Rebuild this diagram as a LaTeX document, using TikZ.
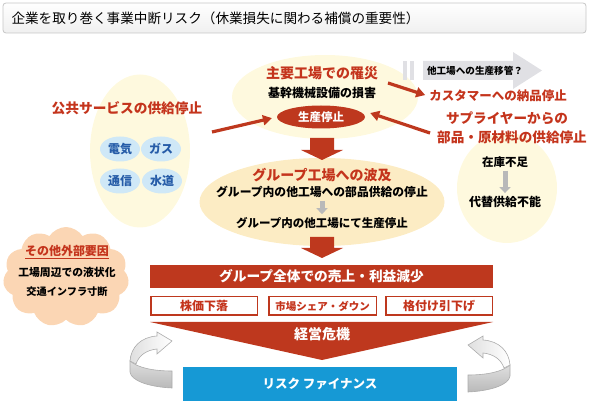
\documentclass[tikz,border=0pt]{standalone}
\usepackage{fontspec}
\setmainfont{Noto Sans CJK JP}
\usetikzlibrary{arrows.meta,calc,positioning,shapes.geometric,shapes.symbols}

\definecolor{rtxt}{RGB}{196,52,28}
\definecolor{rbar}{RGB}{190,56,30}
\definecolor{pale}{RGB}{254,249,222}
\definecolor{peach}{RGB}{252,236,196}
\definecolor{cloudc}{RGB}{251,214,180}
\definecolor{lblue}{RGB}{207,232,247}
\definecolor{btxt}{RGB}{38,92,168}
\definecolor{rblue}{RGB}{22,153,213}
\definecolor{lgray}{RGB}{224,224,228}

\begin{document}
\begin{tikzpicture}[x=1pt,y=-1pt,>=Stealth,
  redtxt/.style={text=rtxt,font=\bfseries\fontsize{#1}{#1}\selectfont,inner sep=1pt},
  redtxt/.default=14,
  blktxt/.style={text=black,font=\bfseries\fontsize{#1}{#1}\selectfont,inner sep=1pt},
  blktxt/.default=12,
  whttxt/.style={text=white,font=\bfseries\fontsize{#1}{#1}\selectfont},
  whttxt/.default=13.5,
  bubble/.style={ellipse,fill=lblue,minimum width=40,minimum height=25,inner sep=0,
    text=btxt,font=\bfseries\fontsize{12}{12}\selectfont},
  subbox/.style={draw=rbar,line width=1.5pt,fill=white,minimum height=18.5,inner sep=0},
  redarr/.style={line width=3.2pt,rbar,-{Triangle[length=9pt,width=10pt]}},
  graydown/.style={line width=5pt,gray!55,-{Triangle[length=6pt,width=11pt]},shorten <=2pt,shorten >=2pt}]
  \useasboundingbox (0,0) rectangle (590,401);

  % title bar
  \path[draw=gray!45,line width=0.8pt,rounded corners=3pt,top color=white,bottom color=gray!12]
    (3,3) rectangle (586,33);
  \node[anchor=west,font=\fontsize{13.6}{14}\selectfont] (title) at (8,18)
    {企業を取り巻く事業中断リスク（休業損失に関わる補償の重要性）};

  % background ellipses
  \node[ellipse,fill=pale,minimum width=100,minimum height=153] (pubell) at (140,151) {};
  \node[ellipse,fill=pale,minimum width=186,minimum height=84] (mainell) at (325,97) {};
  \node[ellipse,fill=peach,minimum width=245,minimum height=88] (grpell) at (322,202) {};
  \node[ellipse,fill=pale,minimum width=100,minimum height=110] (supell) at (507,188) {};
  \node[cloud,cloud puffs=11,cloud puff arc=115,aspect=1.3,fill=cloudc,
    minimum width=126,minimum height=100] (cloud) at (66,277) {};

  % public services
  \node[redtxt=13.7] (pub) at (127,108) {公共サービスの供給停止};
  \node[bubble] (elec) at (120,149) {電気};
  \node[bubble] (gas) at (161,149) {ガス};
  \node[bubble] (tel) at (120,181) {通信};
  \node[bubble] (water) at (162,181) {水道};

  % main plant
  \node[redtxt=14] (main) at (322,73) {主要工場での罹災};
  \node[blktxt=12] (dmg) at (322,93) {基幹機械設備の損害};
  \node[ellipse,fill=rbar,minimum width=88,minimum height=23,inner sep=0,whttxt=11.5] (stop) at (321,117) {生産停止};

  % transfer to other plants
  \fill[lgray] (403,61) rectangle (407,80);
  \fill[lgray] (410,61) rectangle (414,80);
  \fill[lgray] (423,61) -- (513,61) -- (513,52) -- (542,70.5) -- (513,89) -- (513,80) -- (423,80) -- cycle;
  \node[blktxt=9.6] (move) at (475,71) {他工場への生産移管？};

  % customers and suppliers
  \node[redtxt=12.5] (cust) at (498,96) {カスタマーへの納品停止};
  \node[redtxt=13.6] (sup1) at (507,118) {サプライヤーからの};
  \node[redtxt=13.6] (sup2) at (512,137) {部品・原材料の供給停止};
  \node[blktxt=11.5] (stock) at (505,162) {在庫不足};
  \node[blktxt=12] (alt) at (505,202) {代替供給不能};
  \draw[graydown] (stock) -- (alt);

  \coordinate (pubA) at (212,132);
  \coordinate (supA) at (430,133);
  \coordinate (custA) at (388,83);
  \draw[redarr,shorten >=5pt] (pubA) -- (stop.west);
  \draw[redarr] (supA) -- ([shift={(5,-4)}]stop.east);
  \draw[redarr,shorten >=3pt] (custA) -- (cust.west);

  % big arrows down
  \fill[rbar] (322,138) -- ++(12,0) -- ++(0,12) -- ++(9,0) -- ++(-21,10) -- ++(-21,-10) -- ++(9,0) -- ++(0,-12) -- cycle;
  \fill[rbar] (322,237) -- ++(12,0) -- ++(0,11) -- ++(9,0) -- ++(-21,10) -- ++(-21,-10) -- ++(9,0) -- ++(0,-11) -- cycle;

  % group plants
  \node[redtxt=14] (grp) at (322,175) {グループ工場への波及};
  \node[blktxt=11.8] (grp2) at (322,192) {グループ内の他工場への部品供給の停止};
  \node[blktxt=11.5] (grp3) at (322,223) {グループ内の他工場にて生産停止};
  \draw[graydown] (grp2) -- (grp3);

  % other external factors
  \node[text=rtxt,font=\bfseries\fontsize{12}{12}\selectfont] (ext) at (67,252) {\underline{その他外部要因}};
  \node[blktxt=10.8] (ext1) at (67,272) {工場周辺での液状化};
  \node[blktxt=10.2] (ext2) at (67,292) {交通インフラ寸断};

  % group-wide effects
  \node[fill=rbar,minimum width=343,minimum height=23,inner sep=0,whttxt=13.7] (bar) at (321.5,276.5) {グループ全体での売上・利益減少};
  \node[subbox,minimum width=106.5,redtxt=12] (stk) at (204,306) {株価下落};
  \node[subbox,minimum width=107.5,redtxt=10.5] (share) at (322.5,306) {市場シェア・ダウン};
  \node[subbox,minimum width=106.5,redtxt=12] (rate) at (439,306) {格付け引下げ};
  \fill[rbar] (150,322) -- (493,322) -- (322,360) -- cycle;
  \node[whttxt=14] (crisis) at (322,334) {経営危機};

  % risk finance
  \node[fill=rblue,minimum width=274,minimum height=34,inner sep=0,whttxt=12.5] (rf) at (320,384) {リスク ファイナンス};

  % curved arrows
  \foreach \sx/\dx/\dy in {1/0/0,-1/640/4} {
    \begin{scope}[shift={(\dx,\dy)},xscale=\sx]
      \path[draw=gray!65,line width=0.6pt,top color=gray!25,bottom color=gray!55]
        (130,361) .. controls (138,368) and (154,371) .. (172,371) -- (172,388)
        .. controls (150,387) and (131,381) .. (130,372) -- cycle;
      \path[draw=gray!65,line width=0.6pt,left color=gray!25,right color=white]
        (157,332) -- (172,341) -- (157,354) -- (157,349)
        .. controls (147,350) and (139,355) .. (136,364) -- (130,361)
        .. controls (131,347) and (141,337) .. (157,336) -- cycle;
    \end{scope}
  }
\end{tikzpicture}
\end{document}
